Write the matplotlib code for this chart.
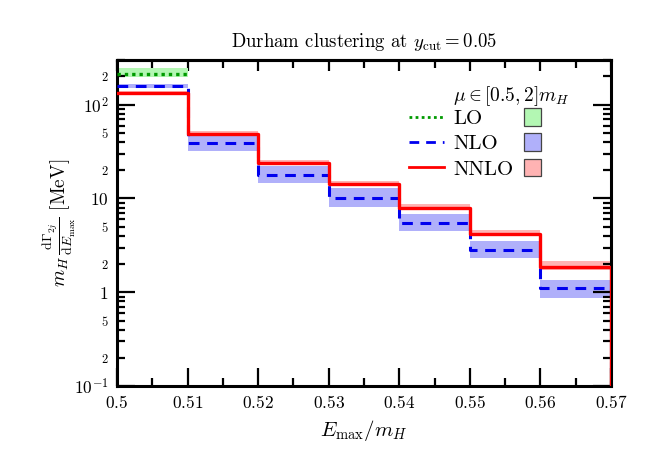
"""Durham clustering: E_max distribution at LO, NLO and NNLO."""

import matplotlib
matplotlib.use("Agg")
import matplotlib.pyplot as plt
import numpy as np
from matplotlib.legend_handler import HandlerPatch
from matplotlib.lines import Line2D
from matplotlib.patches import Patch, Rectangle
from matplotlib.ticker import FixedLocator, FuncFormatter, LogLocator

# bin edges in E_max / m_H
edges = [0.50, 0.51, 0.52, 0.53, 0.54, 0.55, 0.56, 0.57]
minor_x = [0.505, 0.515, 0.525, 0.535, 0.545, 0.555, 0.565]

# LO (only the first bin is populated)
lo_edges = [0.50, 0.51]
lo_val = [215.0]
lo_lo = [195.0]
lo_hi = [245.0]

# NLO central value and scale band
nlo_val = [160.0, 39.0, 18.0, 10.0, 5.5, 2.8, 1.1]
nlo_lo = [151.0, 32.0, 14.6, 8.2, 4.45, 2.3, 0.88]
nlo_hi = [166.0, 46.0, 22.0, 12.8, 6.9, 3.56, 1.36]

# NNLO central value and scale band
nnlo_val = [132.0, 49.0, 24.0, 14.3, 7.9, 4.2, 1.85]
nnlo_lo = [126.0, 47.0, 22.8, 13.5, 7.5, 4.0, 1.74]
nnlo_hi = [139.0, 52.0, 25.5, 15.2, 8.8, 4.6, 2.14]

# value beyond the last edge (drops off the log scale)
tail = 1e-3

plt.rcParams["font.family"] = "serif"
plt.rcParams["font.serif"] = ["cmr10", "DejaVu Serif"]
plt.rcParams["mathtext.fontset"] = "cm"
plt.rcParams["axes.formatter.use_mathtext"] = True
plt.rcParams["axes.unicode_minus"] = False


def _steps(vals):
    """Repeat last value so step='post' covers the final bin."""
    return list(vals) + [vals[-1]]


class _SquareHandler(HandlerPatch):
    """Draw legend patch as a small square with a dark edge."""

    def create_artists(self, legend, orig_handle, xdescent, ydescent,
                       width, height, fontsize, trans):
        side = 1.2 * height
        rect = Rectangle((-xdescent, -ydescent + 0.5 * height - 0.5 * side),
                         side, side, facecolor=orig_handle.get_facecolor(),
                         edgecolor="#444444", linewidth=0.9,
                         transform=trans)
        return [rect]


def main() -> int:

    fig = plt.figure(figsize=(6.48, 4.72), dpi=100)
    ax = fig.add_axes([0.1806, 0.182, 0.7624, 0.691])

    green = "#009a00"
    blue = "#0000ee"
    red = "#ff0000"
    green_band = "#b3f7b3"
    blue_band = "#b0b0fa"
    red_band = "#ffb3b3"
    dotted = (0, (1, 1.2))
    dashed = (0, (3.5, 2.5))

    # Scale bands
    ax.fill_between(lo_edges, _steps(lo_lo), _steps(lo_hi), step="post",
                    color=green_band, lw=0, zorder=1)
    ax.fill_between(edges, _steps(nlo_lo), _steps(nlo_hi), step="post",
                    color=blue_band, lw=0, zorder=1)
    ax.fill_between(edges, _steps(nnlo_lo), _steps(nnlo_hi), step="post",
                    color=red_band, lw=0, zorder=1.1)

    # Central values
    ax.step(lo_edges, _steps(lo_val), where="post", color=green,
            ls=dotted, lw=2.4, zorder=3)
    ax.step(edges + [edges[-1]], nlo_val + [nlo_val[-1], tail], where="post",
            color=blue, ls=dashed, lw=2.2, zorder=3)
    ax.step(edges + [edges[-1]], nnlo_val + [nnlo_val[-1], tail],
            where="post", color=red, lw=2.4, zorder=4)

    # Axes
    ax.set_yscale("log")
    ax.set_xlim(0.50, 0.57)
    ax.set_ylim(0.1, 300)

    ax.xaxis.set_major_locator(FixedLocator(edges))
    ax.xaxis.set_minor_locator(FixedLocator(minor_x))
    ax.xaxis.set_major_formatter(FuncFormatter(lambda v, p: f"${v:g}$"))

    ylabels = {0.1: r"$10^{-1}$", 1.0: r"$1$", 10.0: r"$10$",
               100.0: r"$10^{2}$"}
    ax.yaxis.set_major_locator(FixedLocator(list(ylabels)))
    ax.yaxis.set_major_formatter(
        FuncFormatter(lambda v, p: ylabels.get(round(v, 3), "")))
    ax.yaxis.set_minor_locator(LogLocator(base=10, subs=np.arange(2, 10)))

    def _minor_label(v, pos):
        lead = round(v / 10 ** np.floor(np.log10(v) + 1e-9))
        return f"${lead}$" if lead in (2, 5) else ""

    ax.yaxis.set_minor_formatter(FuncFormatter(_minor_label))

    ax.tick_params(which="both", direction="in", top=False, right=True,
                   width=1.6, colors="black")
    ax.tick_params(which="major", length=13, labelsize=12.5, pad=6)
    ax.tick_params(which="minor", length=6, labelsize=9, pad=6)
    for side in ax.spines.values():
        side.set_linewidth(2.2)

    # short ticks along the top edge
    top = ax.secondary_xaxis("top")
    top.xaxis.set_major_locator(FixedLocator(edges))
    top.xaxis.set_minor_locator(FixedLocator(minor_x))
    top.tick_params(which="both", direction="in", width=1.6, labeltop=False)
    top.tick_params(which="major", length=8)
    top.tick_params(which="minor", length=6)
    top.spines["top"].set_linewidth(2.2)

    ax.set_xlabel(r"$E_{\mathrm{max}}/m_H$", fontsize=15, labelpad=5)
    ax.set_ylabel(r"$m_H\,\frac{\mathrm{d}\Gamma_{2j}}"
                  r"{\mathrm{d}E_{\mathrm{max}}}\ [\mathrm{MeV}]$",
                  fontsize=14)
    ax.yaxis.set_label_coords(-0.079, 0.5)
    ax.set_title(r"Durham clustering at $y_{\mathrm{cut}} = 0.05$",
                 fontsize=13.5, pad=9)

    # Legend: line | label | band swatch
    ax.text(0.798, 0.888, r"$\mu \in [0.5, 2]m_H$", transform=ax.transAxes,
            ha="center", va="center", fontsize=14)
    handles = [
        Line2D([], [], color=green, ls=dotted, lw=2.0),
        Line2D([], [], color=blue, ls=dashed, lw=2.0),
        Line2D([], [], color=red, lw=2.0),
        Patch(facecolor=green_band),
        Patch(facecolor=blue_band),
        Patch(facecolor=red_band),
    ]
    labels = ["LO", "NLO", "NNLO", "", "", ""]
    ax.legend(handles, labels, ncol=2, frameon=False, fontsize=15,
              loc="upper left", bbox_to_anchor=(0.59, 0.848),
              borderaxespad=0, borderpad=0,
              handlelength=1.7, handletextpad=0.45, columnspacing=0.5,
              labelspacing=0.32,
              handler_map={Patch: _SquareHandler()})

    fig.savefig("out.png", dpi=100)
    return 0


if __name__ == "__main__":
    raise SystemExit(main())
